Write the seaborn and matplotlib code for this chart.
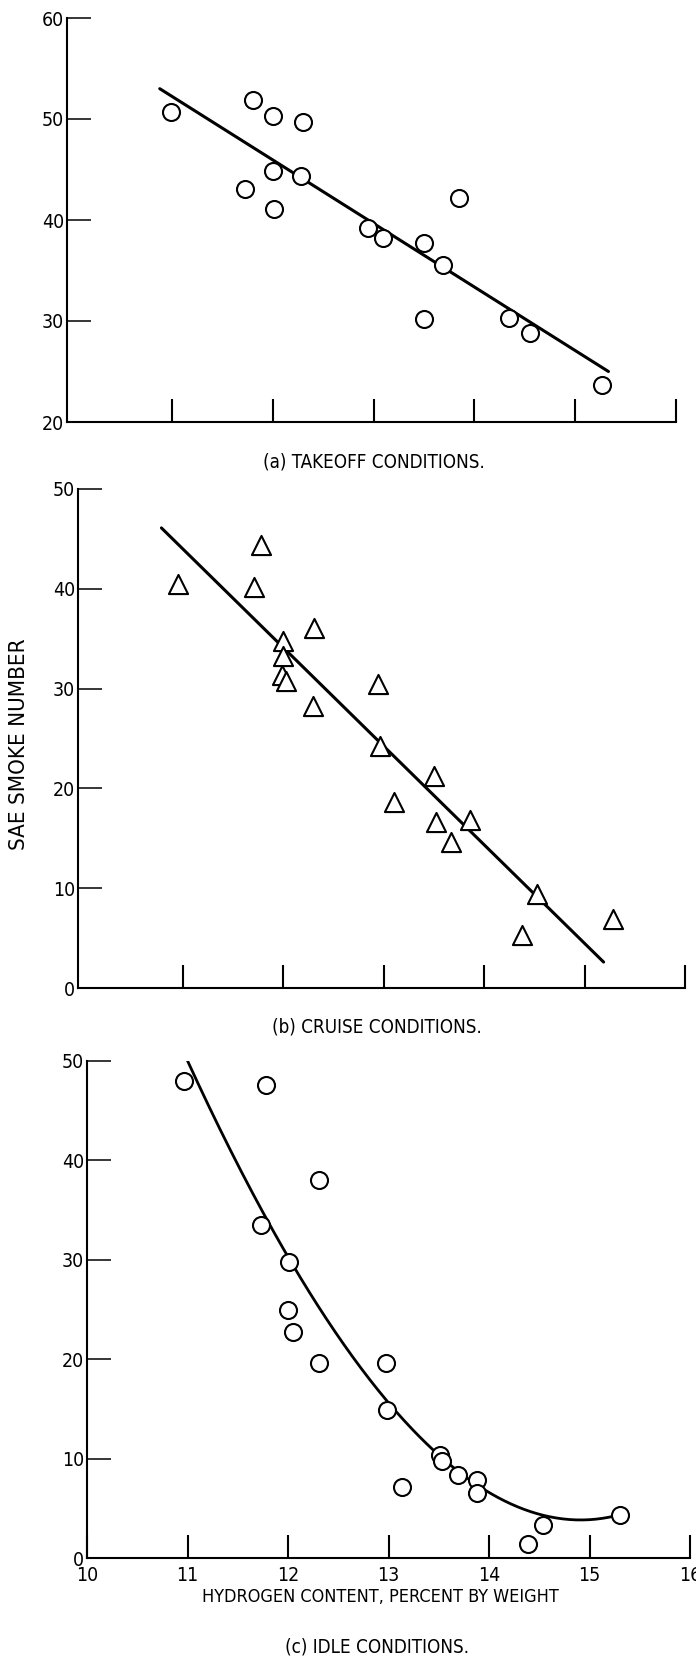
import numpy as np
import pandas as pd
import seaborn as sns
import matplotlib.pyplot as plt

# (a) takeoff conditions
takeoff_h = [10.99, 11.80, 12.00, 12.30, 12.00, 12.28, 11.73, 12.01, 13.85,
             12.95, 13.09, 13.50, 13.69, 13.50, 14.34, 14.55, 15.27]
takeoff_smoke = [50.7, 51.9, 50.3, 49.7, 44.9, 44.4, 43.1, 41.1, 42.2,
                 39.2, 38.2, 37.7, 35.5, 30.2, 30.3, 28.8, 23.7]
takeoff_fit_h = [10.88, 15.33]
takeoff_fit_smoke = [53.0, 25.0]

# (b) cruise conditions
cruise_h = [10.96, 11.78, 11.71, 12.00, 12.00, 11.99, 12.03, 12.31, 12.30, 12.95,
            12.97, 13.50, 13.10, 13.52, 13.67, 13.86, 14.53, 14.38, 15.28]
cruise_smoke = [40.5, 44.4, 40.2, 34.8, 33.3, 31.4, 30.8, 36.1, 28.3, 30.5,
                24.2, 21.2, 18.6, 16.6, 14.6, 16.8, 9.4, 5.3, 6.9]
cruise_fit_h = [10.79, 15.19]
cruise_fit_smoke = [46.1, 2.6]

# (c) idle conditions
idle_h = [10.97, 11.78, 12.31, 11.73, 12.01, 12.00, 12.05, 12.31, 12.98, 12.99,
          13.51, 13.53, 13.69, 13.13, 13.88, 13.88, 14.54, 14.39, 15.30]
idle_smoke = [48.0, 47.6, 38.0, 33.5, 29.8, 24.9, 22.7, 19.6, 19.6, 14.9,
              10.4, 9.8, 8.4, 7.1, 7.8, 6.5, 3.3, 1.4, 4.3]
# points
idle_curve_h = [11.0, 11.74, 12.0, 13.0, 13.56, 14.0, 14.44, 14.9, 15.3]
idle_curve_smoke = [50.0, 35.0, 30.4, 15.2, 10.4, 6.4, 4.4, 4.0, 4.3]

sns.set_style('white')
plt.rcParams['font.family'] = ['DejaVu Sans']
plt.rcParams['font.stretch'] = 'condensed'
plt.rcParams['text.color'] = 'black'
plt.rcParams['xtick.color'] = 'black'
plt.rcParams['ytick.color'] = 'black'
plt.rcParams['axes.edgecolor'] = 'black'
plt.rcParams['axes.linewidth'] = 1.5

W, H = 696, 1666
fig = plt.figure(figsize=(W / 100, H / 100), dpi=100)


def make_axes(left, right, top, bottom, xlim, ylim, xticks, yticks, xlabels):
    ax = fig.add_axes([left / W, 1 - bottom / H, (right - left) / W, (bottom - top) / H])
    ax.set_xlim(*xlim)
    ax.set_ylim(*ylim)
    for s in ['top', 'right']:
        ax.spines[s].set_visible(False)
    ax.set_xticks(xticks)
    ax.set_yticks(yticks)
    ax.tick_params(axis='x', bottom=True, direction='in', length=16.5, width=1.5, pad=6,
                   labelsize=14, labelbottom=xlabels)
    ax.tick_params(axis='y', left=True, direction='in', length=17, width=1.1, pad=2, labelsize=14)
    return ax


def draw_points(ax, h, smoke, marker, size):
    df = pd.DataFrame({'h': h, 'smoke': smoke})
    sns.scatterplot(data=df, x='h', y='smoke', ax=ax, marker=marker, s=size,
                    facecolor='white', edgecolor='black', linewidth=1.5,
                    zorder=3, clip_on=False)
    ax.set_xlabel('')
    ax.set_ylabel('')


# panel (a)
ax_a = make_axes(67, 676, 18, 422, (9.96, 16), (20, 60), range(11, 17), range(20, 61, 10), False)
sns.lineplot(x=takeoff_fit_h, y=takeoff_fit_smoke, ax=ax_a, color='black', lw=2.2)
draw_points(ax_a, takeoff_h, takeoff_smoke, 'o', 150)

# panel (b)
ax_b = make_axes(78, 685, 489, 988, (9.96, 16), (0, 50), range(11, 17), range(0, 51, 10), False)
sns.lineplot(x=cruise_fit_h, y=cruise_fit_smoke, ax=ax_b, color='black', lw=2.2)
draw_points(ax_b, cruise_h, cruise_smoke, '^', 190)

# panel (c)
ax_c = make_axes(87, 690, 1061, 1558, (10, 16), (0, 50), range(10, 17), range(0, 51, 10), True)
coef = np.polyfit(idle_curve_h, idle_curve_smoke, 3)
hh = np.linspace(idle_curve_h[0], idle_curve_h[-1], 200)
sns.lineplot(x=hh, y=np.polyval(coef, hh), ax=ax_c, color='black', lw=2.0)
draw_points(ax_c, idle_h, idle_smoke, 'o', 150)

fig.text(374 / W, 1 - 462 / H, '(a) TAKEOFF CONDITIONS.', ha='center', va='center', fontsize=13.5)
fig.text(377 / W, 1 - 1027 / H, '(b) CRUISE CONDITIONS.', ha='center', va='center', fontsize=13.5)
fig.text(380 / W, 1 - 1597 / H, 'HYDROGEN CONTENT, PERCENT BY WEIGHT', ha='center', va='center', fontsize=13)
fig.text(377 / W, 1 - 1647 / H, '(c) IDLE CONDITIONS.', ha='center', va='center', fontsize=13.5)
fig.text(19 / W, 1 - 744 / H, 'SAE SMOKE NUMBER', ha='center', va='center', rotation=90, fontsize=16)

fig.savefig('out.png', dpi=100)
